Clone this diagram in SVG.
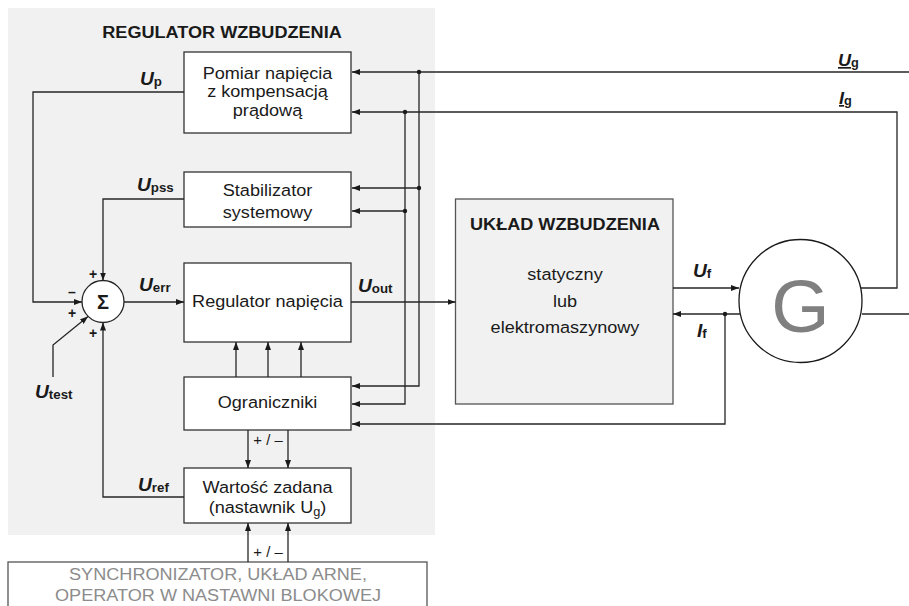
<svg xmlns="http://www.w3.org/2000/svg" width="909" height="606" viewBox="0 0 909 606">
  <defs>
    <marker id="arr" viewBox="0 0 8 6" refX="8" refY="3" markerWidth="8" markerHeight="6" markerUnits="userSpaceOnUse" orient="auto">
      <path d="M0,0 L8,3 L0,6 z" fill="#1a1a1a"/>
    </marker>
    <style>
      text { font-family: "Liberation Sans", Arial, sans-serif; fill: #1a1a1a; }
      .t { font-size: 17px; text-anchor: middle; }
      .h { font-size: 17px; font-weight: bold; text-anchor: middle; }
      .lbl { font-size: 18px; font-weight: bold; font-style: italic; }
      .sub { font-size: 12.5px; font-weight: bold; font-style: normal; }
      .sign { font-size: 14px; font-weight: bold; text-anchor: middle; }
      .pm { font-size: 14px; text-anchor: middle; }
      .box { fill: #ffffff; stroke: #333333; stroke-width: 1.3; }
      .wire { fill: none; stroke: #262626; stroke-width: 1.3; }
      .arrow { marker-end: url(#arr); }
      .dot { fill: #1a1a1a; }
    </style>
  </defs>

  <!-- exciter regulator panel -->
  <rect x="8" y="8" width="427" height="527" fill="#f1f1f1"/>
  <text class="h" transform="translate(222 38) scale(1.065 1)">REGULATOR WZBUDZENIA</text>

  <g id="pomiar">
    <rect class="box" x="184" y="52" width="167" height="81"/>
    <text class="t" transform="translate(267.5 78.5) scale(1.065 1)">Pomiar napięcia</text>
    <text class="t" transform="translate(267.5 97) scale(1.065 1)">z kompensacją</text>
    <text class="t" transform="translate(267.5 115.5) scale(1.065 1)">prądową</text>
  </g>

  <g id="stabilizator">
    <rect class="box" x="184" y="172" width="167" height="55"/>
    <text class="t" transform="translate(267.5 196) scale(1.065 1)">Stabilizator</text>
    <text class="t" transform="translate(267.5 217.5) scale(1.065 1)">systemowy</text>
  </g>

  <g id="regulator">
    <rect class="box" x="184" y="263" width="167" height="79"/>
    <text class="t" transform="translate(267.5 307) scale(1.065 1)">Regulator napięcia</text>
  </g>

  <g id="ograniczniki">
    <rect class="box" x="184" y="377" width="167" height="53"/>
    <text class="t" transform="translate(267.5 408) scale(1.065 1)">Ograniczniki</text>
  </g>

  <g id="wartosc">
    <rect class="box" x="184" y="468" width="167" height="55"/>
    <text class="t" transform="translate(267.5 493) scale(1.065 1)">Wartość zadana</text>
    <text class="t" transform="translate(267.5 513) scale(1.065 1)">(nastawnik U<tspan font-size="12" dy="3">g</tspan><tspan dy="-3">)</tspan></text>
  </g>

  <g id="sumator">
    <circle cx="103" cy="301.5" r="21" fill="#ffffff" stroke="#262626" stroke-width="1.3"/>
    <text x="103" y="308.5" font-size="20" font-weight="bold" text-anchor="middle">Σ</text>
    <text class="sign" x="93" y="279">+</text>
    <text class="sign" x="72" y="297">–</text>
    <text class="sign" x="72" y="318">+</text>
    <text class="sign" x="93" y="338">+</text>
  </g>

  <g id="synchronizator">
    <rect x="8" y="562" width="419" height="60" fill="#ffffff" stroke="#555555" stroke-width="1.3"/>
    <text class="t" style="fill:#8c8c8c" transform="translate(218 580) scale(1.065 1)">SYNCHRONIZATOR, UKŁAD ARNE,</text>
    <text class="t" style="fill:#8c8c8c" transform="translate(218 601) scale(1.065 1)">OPERATOR W NASTAWNI BLOKOWEJ</text>
  </g>

  <g id="uklad">
    <rect x="455.5" y="199" width="217.5" height="205" fill="#f1f1f1" stroke="#555555" stroke-width="1.3"/>
    <text class="h" transform="translate(565 230) scale(1.065 1)">UKŁAD WZBUDZENIA</text>
    <text class="t" transform="translate(565 280) scale(1.065 1)">statyczny</text>
    <text class="t" transform="translate(565 307) scale(1.065 1)">lub</text>
    <text class="t" transform="translate(565 333) scale(1.065 1)">elektromaszynowy</text>
  </g>

  <g id="generator">
    <circle cx="800.5" cy="301" r="61.5" fill="#ffffff" stroke="#1a1a1a" stroke-width="1.3"/>
    <text x="800.5" y="332" font-size="75" text-anchor="middle" style="fill:#808080">G</text>
  </g>

  <g id="connectors">
    <!-- measurement feeds -->
    <path class="wire arrow" d="M909,72 H352"/>
    <path class="wire arrow" d="M861,288 H897 V112 H352"/>
    <path class="wire arrow" d="M419,72 V386 H352"/>
    <path class="wire arrow" d="M419,188 H352"/>
    <path class="wire arrow" d="M405,112 V404 H352"/>
    <path class="wire arrow" d="M405,211 H352"/>
    <!-- summing junction inputs -->
    <path class="wire arrow" d="M184,92 H33 V302 H82"/>
    <path class="wire arrow" d="M184,199 H103 V280.5"/>
    <path class="wire arrow" d="M184,497 H103 V322.5"/>
    <path class="wire arrow" d="M53,377 V345 L88,316.5"/>
    <path class="wire arrow" d="M124,302 H184"/>
    <path class="wire arrow" d="M351,302 H455.5"/>
    <!-- limiters -->
    <path class="wire arrow" d="M236,377 V342"/>
    <path class="wire arrow" d="M268,377 V342"/>
    <path class="wire arrow" d="M301,377 V342"/>
    <path class="wire arrow" d="M248,430 V468"/>
    <path class="wire arrow" d="M288,430 V468"/>
    <path class="wire arrow" d="M248,562 V523"/>
    <path class="wire arrow" d="M288,562 V523"/>
    <!-- field circuit -->
    <path class="wire arrow" d="M673,288 H739"/>
    <path class="wire arrow" d="M740,314 H673"/>
    <path class="wire arrow" d="M725,314 V424 H352"/>
    <path class="wire" d="M862,314 H909"/>
    <circle class="dot" cx="419" cy="72" r="2.2"/>
    <circle class="dot" cx="405" cy="112" r="2.2"/>
    <circle class="dot" cx="419" cy="188" r="2.2"/>
    <circle class="dot" cx="405" cy="211" r="2.2"/>
    <circle class="dot" cx="725" cy="314" r="2.2"/>
  </g>

  <!-- signal labels -->
  <g id="labels">
    <text class="lbl" transform="translate(140 85) scale(1.065 1)">U<tspan class="sub" dy="1">p</tspan></text>
    <text class="lbl" transform="translate(137 191) scale(1.065 1)">U<tspan class="sub" dy="1">pss</tspan></text>
    <text class="lbl" transform="translate(139 291) scale(1.065 1)">U<tspan class="sub" dy="1">err</tspan></text>
    <text class="lbl" transform="translate(358 292) scale(1.065 1)">U<tspan class="sub" dy="1">out</tspan></text>
    <text class="lbl" transform="translate(138 491) scale(1.065 1)">U<tspan class="sub" dy="1">ref</tspan></text>
    <text class="lbl" transform="translate(35 398) scale(1.065 1)">U<tspan class="sub" dy="1">test</tspan></text>
    <text class="lbl" transform="translate(693 277) scale(1.065 1)">U<tspan class="sub" dy="1">f</tspan></text>
    <text class="lbl" transform="translate(697 337) scale(1.065 1)">I<tspan class="sub" dy="1">f</tspan></text>
    <text class="lbl" style="font-size:17px" transform="translate(838 66) scale(1.065 1)"><tspan text-decoration="underline">U</tspan><tspan class="sub" style="font-size:12px" dy="1">g</tspan></text>
    <text class="lbl" style="font-size:17px" transform="translate(839 104) scale(1.065 1)"><tspan text-decoration="underline"> I</tspan><tspan class="sub" style="font-size:12px" dy="1">g</tspan></text>
    <text class="pm" transform="translate(268 445) scale(1.065 1)">+ / –</text>
    <text class="pm" transform="translate(268 557) scale(1.065 1)">+ / –</text>
  </g>
</svg>
